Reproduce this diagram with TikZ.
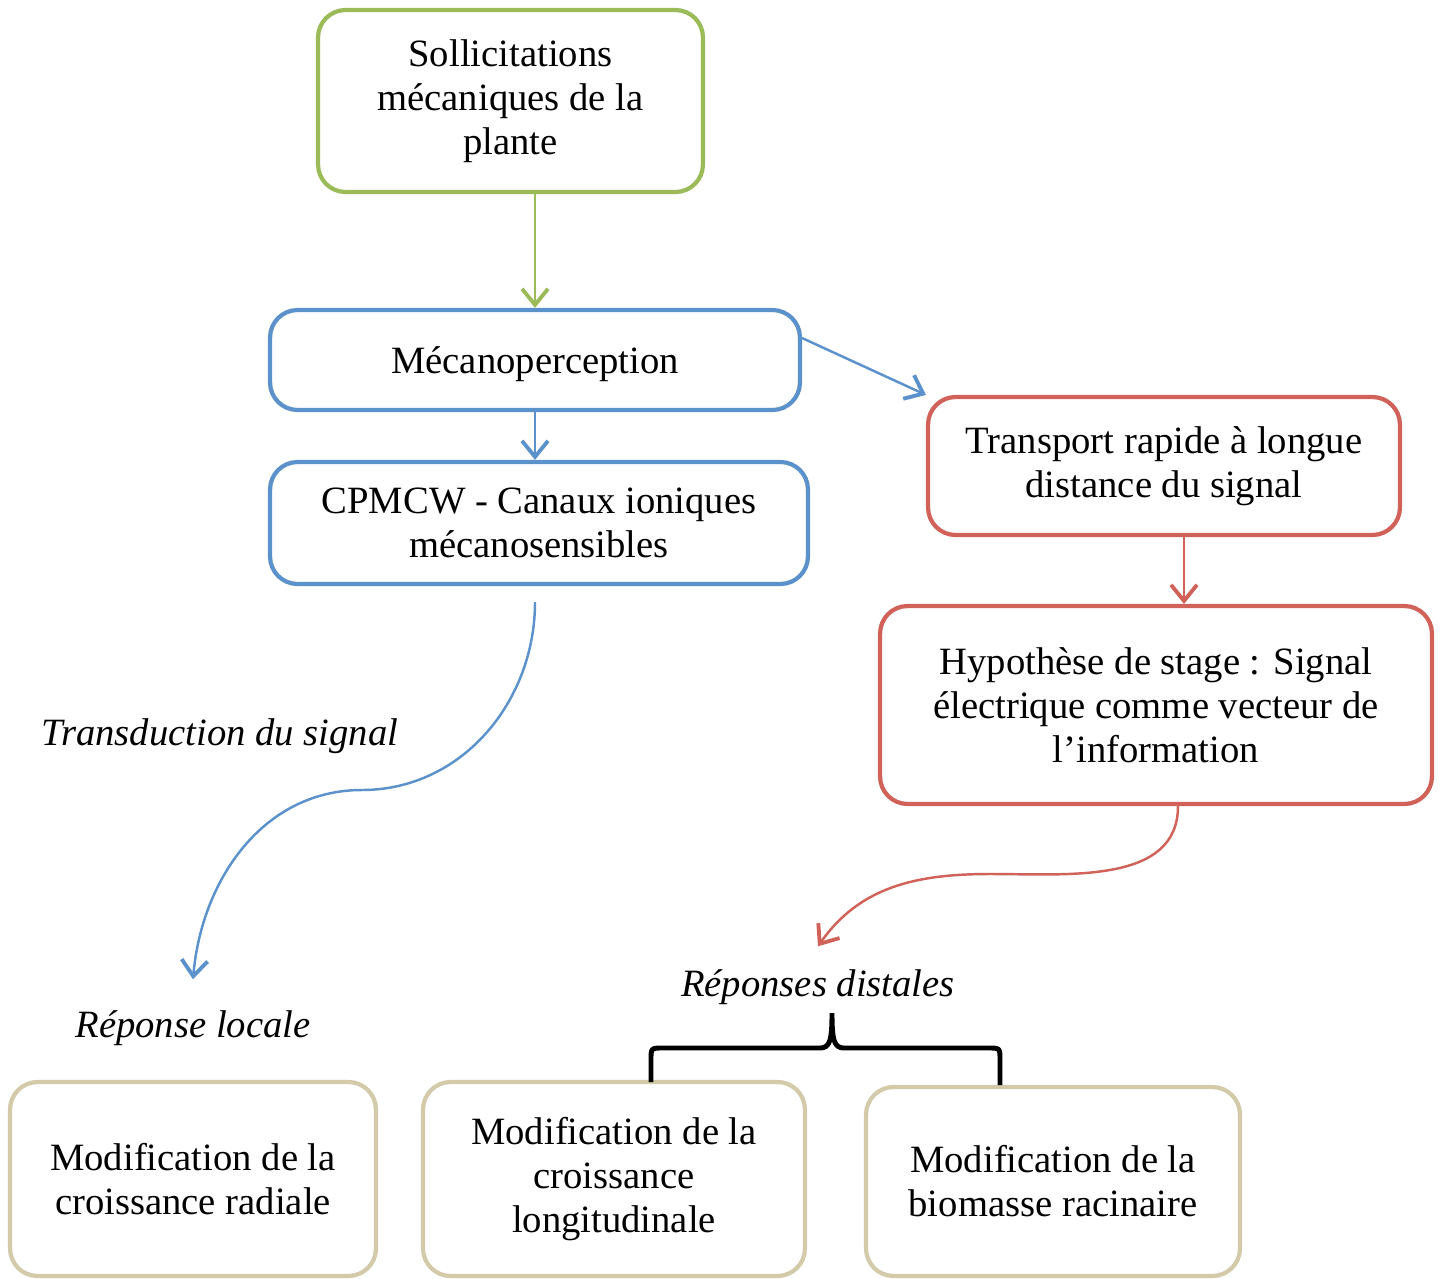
\documentclass[tikz,border=0pt]{standalone}
\usepackage{fontspec}
\setmainfont{Liberation Serif}
\usetikzlibrary{arrows.meta}
\definecolor{boxgreen}{RGB}{155,187,89}
\definecolor{boxblue}{RGB}{92,146,203}
\definecolor{boxred}{RGB}{208,98,90}
\definecolor{boxtan}{RGB}{210,202,168}

\begin{document}
\begin{tikzpicture}[x=0.02cm,y=-0.02cm,
  box/.style={draw,line width=2.4pt,rounded corners=0.55cm,align=center,fill=white,
    inner sep=0pt,font=\fontsize{22}{25}\selectfont,
    execute at begin node={\rule{0pt}{19.5pt}}},
  lab/.style={font=\fontsize{22}{25}\selectfont\itshape},
  link/.style={line width=1.4pt,-{Straight Barb[length=0.32cm,width=0.52cm,line width=2.2pt]}},
  brace/.style={line width=2.8pt,black}]
\useasboundingbox (0,0) rectangle (1440,1278);
% Boxes
\node[box,draw=boxgreen,minimum width=7.7cm,minimum height=3.64cm] (solli) at (510.5,101) {Sollicitations\\mécaniques de la\\plante};
\node[box,draw=boxblue,minimum width=10.6cm,minimum height=2cm] (meca) at (535,360) {Mécanoperception};
\node[box,draw=boxblue,minimum width=10.76cm,minimum height=2.44cm] (cpmcw) at (539,523) {CPMCW - Canaux ioniques\\mécanosensibles};
\node[box,draw=boxred,minimum width=9.44cm,minimum height=2.76cm] (transp) at (1164,466) {Transport rapide à longue\\distance du signal};
\node[box,draw=boxred,minimum width=11.04cm,minimum height=3.96cm] (hypo) at (1156,705) {Hypothèse de stage : Signal\\électrique comme vecteur de\\l’information};
\node[box,draw=boxtan,minimum width=7.32cm,minimum height=3.88cm] (radial) at (193,1179) {Modification de la\\croissance radiale};
\node[box,draw=boxtan,minimum width=7.64cm,minimum height=3.88cm] (longi) at (614,1179) {Modification de la\\croissance\\longitudinale};
\node[box,draw=boxtan,minimum width=7.48cm,minimum height=3.78cm] (racin) at (1053,1181.5) {Modification de la\\biomasse racinaire};
% Labels
\node[lab] (transd) at (220,736) {Transduction du signal};
\node[lab] (locale) at (193,1028) {Réponse locale};
\node[lab] (distal) at (818,987) {Réponses distales};
% Arrows
\draw[link,draw=boxgreen] (meca.north |- solli.south) -- (meca.north);
\draw[link,draw=boxblue] (meca.south) -- (meca.south |- cpmcw.north);
\draw[link,draw=boxblue] ([yshift=0.44cm]meca.east) -- (transp.north west);
\draw[link,draw=boxred] ([xshift=0.4cm]transp.south) -- ([xshift=0.4cm]transp.south |- hypo.north);
% Curved arrows
\coordinate (bend1) at (362,790);
\coordinate (bend2) at (990,874);
\draw[link,draw=boxblue] ([xshift=-0.08cm,yshift=-0.32cm]cpmcw.south) to[out=-90,in=0] (bend1)
  to[out=180,in=85] ([yshift=0.5cm]locale.north);
\draw[link,draw=boxred] ([xshift=0.44cm]hypo.south) to[out=-90,in=0] (bend2)
  to[out=180,in=55] ([yshift=0.34cm]distal.north);
% Brace
\draw[brace] (651,1082) -- (651,1060) .. controls (651,1048) .. (663,1048) -- (820,1048)
  .. controls (830,1048) and (832,1040) .. (832,1013)
  .. controls (832,1040) and (834,1048) .. (844,1048) -- (988,1048)
  .. controls (1000,1048) .. (1000,1060) -- (1000,1085);
\end{tikzpicture}
\end{document}
